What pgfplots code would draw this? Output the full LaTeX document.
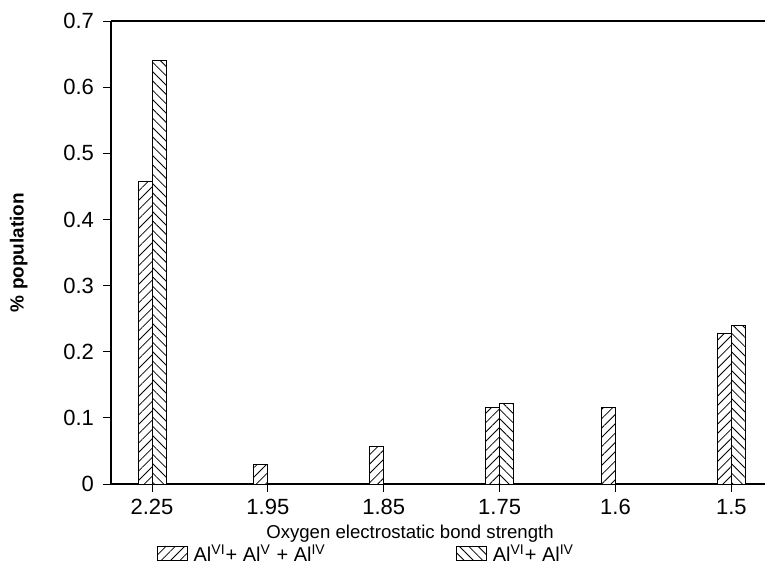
\documentclass[border=0pt]{standalone}
\usepackage{fontspec}
\setmainfont{Liberation Sans}
\usepackage{pgfplots}
\pgfplotsset{compat=1.18}
\usetikzlibrary{patterns.meta}
\begin{document}
\begin{tikzpicture}
\begin{axis}[
  scale only axis,
  width=327pt, height=231.5pt,
  xmin=-0.354, xmax=5.29,
  ymin=0, ymax=0.7,
  axis lines=left,
  axis line style={-, line width=0.6pt},
  ybar=0pt, bar width=7pt,
  xtick={0,1,2,3,4,5},
  xticklabels={2.25,1.95,1.85,1.75,1.6,1.5},
  ytick={0,0.1,0.2,0.3,0.4,0.5,0.6,0.7},
  yticklabels={0,0.1,0.2,0.3,0.4,0.5,0.6,0.7},
  tick align=outside,
  major tick length=4pt,
  tick style={black, line width=0.5pt},
  ticklabel style={font=\fontsize{11}{13}\selectfont},
  yticklabel style={xshift=-1pt},
  /pgf/number format/assume math mode=true,
  xlabel={Oxygen electrostatic bond strength},
  ylabel={\% population},
  xlabel style={font=\fontsize{9.3}{11}\selectfont, yshift=1.5pt, xshift=-14pt},
  ylabel style={font=\fontsize{9.5}{11}\selectfont\bfseries, yshift=11pt},
  legend columns=2,
  legend style={draw=none, fill=none, at={(0.06,0)}, anchor=north west, yshift=-26pt,
    font=\fontsize{10}{12}\selectfont,
    /tikz/every even column/.append style={column sep=63pt}},
  legend image code/.code={\draw[#1] (0pt,-3pt) rectangle (15pt,4pt); \path (16pt,0pt);},
  clip=false,
]
\addplot[draw=black, line width=0.5pt, fill=white,
  postaction={pattern={Lines[angle=45, distance=3.3pt, line width=0.4pt]}}]
  coordinates {(0,0.458) (1,0.029) (2,0.057) (3,0.115) (4,0.115) (5,0.227)};
\addplot[draw=black, line width=0.5pt, fill=white,
  postaction={pattern={Lines[angle=-45, distance=3.3pt, line width=0.4pt]}}]
  coordinates {(0,0.640) (3,0.121) (5,0.240)};
\legend{Al\textsuperscript{VI}+ Al\textsuperscript{V} + Al\textsuperscript{IV}, Al\textsuperscript{VI}+ Al\textsuperscript{IV}}
\draw[line width=0.6pt] (rel axis cs:0,1) -- (rel axis cs:1,1);
\end{axis}
\pgfresetboundingbox
\path (current axis.south west) ++(-55.5pt,-39.5pt) rectangle ++(382.5pt,281.5pt);
\end{tikzpicture}
\end{document}
